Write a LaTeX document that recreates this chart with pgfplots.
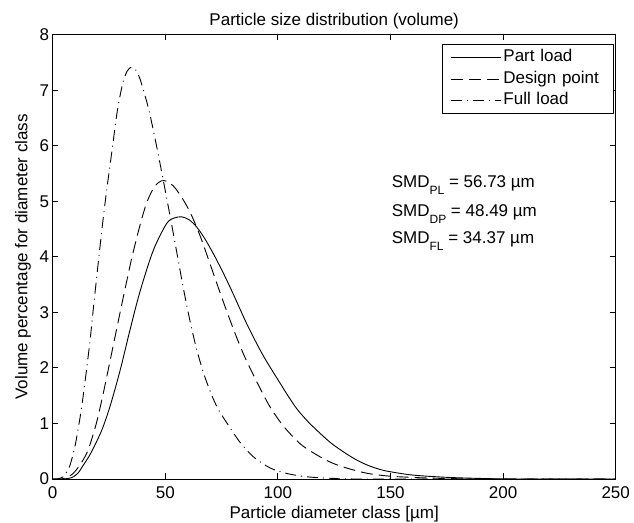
\documentclass[border=0pt]{standalone}
\usepackage{pgfplots}
\pgfplotsset{compat=1.18}
\usepackage{fontspec}
\setmainfont{Liberation Sans}
\newcommand{\sz}{\fontsize{17bp}{20bp}\selectfont}
\newcommand{\sub}[1]{\raisebox{-7bp}{\fontsize{12bp}{12bp}\selectfont #1}}

\begin{document}
\begin{tikzpicture}
\path[use as bounding box] (0,0) rectangle (634bp,523bp);
\begin{axis}[
  at={(52.7bp,44bp)}, anchor=south west,
  width=563bp, height=444.3bp, scale only axis,
  xmin=0, xmax=250, ymin=0, ymax=8,
  xtick={0,50,...,250}, ytick={0,1,...,8},
  tick align=inside, xtick pos=both, ytick pos=both,
  major tick length=5.6bp,
  axis line style={line width=0.9bp},
  every tick/.style={black, line width=0.9bp},
  tick label style={font=\sz},
  /pgf/number format/assume math mode=true,
  xticklabel style={yshift=-4bp},
  every axis title/.style={at={(0.5,1.0207)}, anchor=base, font=\sz},
  every axis x label/.style={at={(0.5,-0.0900)}, anchor=base, font=\sz},
  every axis y label/.style={at={(-0.0451,0.5)}, rotate=90, anchor=base, font=\sz},
  title={Particle size distribution (volume)},
  xlabel={Particle diameter class [µm]},
  ylabel={Volume percentage for diameter class},
  legend style={at={(0.9968,0.979)}, anchor=north east, draw=black, line width=0.9bp,
    fill=white, font=\sz, inner xsep=8bp, inner ysep=3bp, row sep=1.5bp,
    nodes={inner xsep=2bp, inner ysep=2bp, text height=12.3bp, text depth=3.7bp, text width=100bp}},
  legend cell align=left,
  legend image code/.code={\draw[#1] (0bp,0bp) -- (50bp,0bp);},
]
\addplot[black, line width=0.9bp, smooth] coordinates {
(0,0) (4,0) (7,0.01) (9.2,0.04) (11.5,0.12) (13.6,0.25) (16,0.40) (18,0.55) (21.8,0.88)
(25.4,1.30) (29.9,1.95) (34.3,2.68) (38.8,3.38) (44.7,4.12) (50.6,4.60) (54,4.70) (57.3,4.72)
(60.5,4.67) (63.9,4.54) (67.5,4.33) (71.3,4.06) (75,3.77) (78.7,3.46) (82.4,3.13) (86.1,2.80)
(89.8,2.50) (93.5,2.22) (97.2,1.97) (100.9,1.73) (104.6,1.49) (108.3,1.27) (112.5,1.07)
(117.2,0.88) (123.2,0.66) (127.6,0.53) (132.1,0.41) (136.5,0.31) (141,0.23) (145.5,0.17)
(150,0.13) (160,0.07) (175,0.03) (190,0.01) (205,0) (250,0)
};
\addlegendentry{Part load}
\addplot[black, line width=0.9bp, smooth, dash pattern=on 12bp off 6bp] coordinates {
(0,0) (4,0) (6,0.02) (8.5,0.08) (10.6,0.17) (13,0.31) (15.4,0.49) (17.5,0.74) (19.5,1.02)
(21.8,1.42) (24,1.84) (26.2,2.27) (28.4,2.70) (30.6,3.13) (32.8,3.55) (35,3.96) (37.3,4.34)
(39.5,4.68) (41.7,4.97) (44,5.18) (46.2,5.31) (48.4,5.37) (50.6,5.36) (53.5,5.28) (56.5,5.12)
(59.5,4.92) (62.4,4.68) (66,4.32) (69.8,3.88) (73.5,3.45) (77.2,3.03) (81,2.62) (84.6,2.26)
(88.3,1.94) (92,1.64) (96.5,1.30) (102.5,0.95) (110,0.63) (117,0.44) (124,0.29) (132,0.18)
(140,0.10) (150,0.05) (165,0.02) (180,0.005) (190,0) (250,0)
};
\addlegendentry{Design point}
\addplot[black, line width=0.9bp, smooth, dash pattern=on 11bp off 5bp on 1bp off 5bp] coordinates {
(0,0) (2,0) (4.7,0.04) (6.2,0.13) (7.7,0.25) (9.8,0.57) (11.2,0.88) (12.7,1.25) (14.6,1.83)
(16.6,2.50) (18,3.05) (19.5,3.62) (21,4.18) (22.5,4.72) (24,5.21) (25.5,5.66) (27,6.12)
(28.4,6.55) (29.9,6.90) (31.4,7.17) (33,7.34) (34.6,7.41) (36,7.40) (37.3,7.34) (38.8,7.20)
(40.3,7.00) (41.7,6.80) (43.2,6.56) (46.2,5.98) (49.1,5.38) (52.1,4.74) (55.1,4.08) (58,3.44)
(61,2.84) (63.9,2.34) (66.9,1.92) (69.9,1.58) (72,1.38) (74.3,1.20) (78.8,0.92) (83.2,0.66)
(89.1,0.40) (96.5,0.20) (103.9,0.10) (112.8,0.04) (125,0.01) (140,0) (250,0)
};
\addlegendentry{Full load}
\node[anchor=base west, inner sep=0pt, font=\sz] at (axis cs:150.5,5.252) {SMD\sub{PL} = 56.73 µm};
\node[anchor=base west, inner sep=0pt, font=\sz] at (axis cs:150.5,4.735) {SMD\sub{DP} = 48.49 µm};
\node[anchor=base west, inner sep=0pt, font=\sz] at (axis cs:150.5,4.244) {SMD\sub{FL} = 34.37 µm};
\end{axis}
\end{tikzpicture}
\end{document}
